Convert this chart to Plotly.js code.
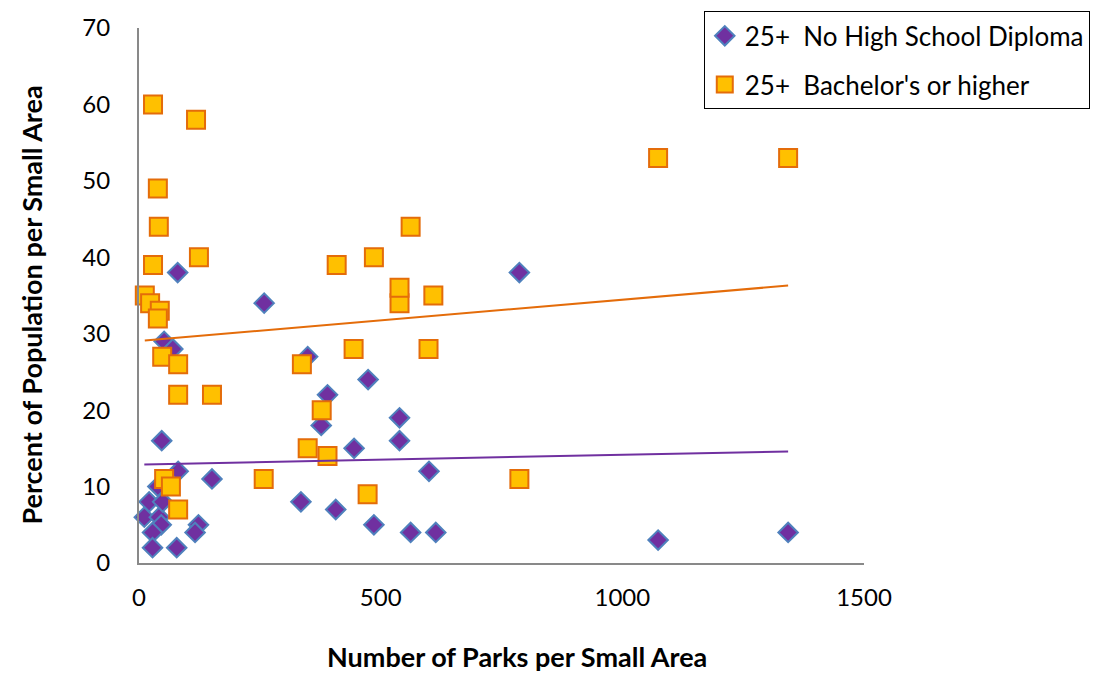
<!DOCTYPE html>
<html>
<head>
<meta charset="utf-8">
<script src="https://cdn.plot.ly/plotly-3.0.1.min.js"></script>
<style>
  html, body { margin: 0; padding: 0; background: #ffffff; }
  #chart { width: 1102px; height: 673px; }
</style>
</head>
<body>
<div id="chart"></div>
<script>
// Number of parks per small area and share of residents aged 25+ by schooling
const noDiplomaParks = [47, 81, 151, 39, 21, 11, 42, 46, 28, 123, 116, 28, 78, 80, 52, 70, 49,
                        259, 349, 474, 390, 377, 539, 539, 445, 600, 335, 407, 486, 562, 614, 787, 1074, 1343];
const noDiplomaPct   = [16, 12, 11, 10, 8, 6, 6, 5, 4, 5, 4, 2, 2, 38, 29, 28, 8,
                        34, 27, 24, 22, 18, 19, 16, 15, 12, 8, 7, 5, 4, 4, 38, 3, 4];

const bachelorParks = [29, 118, 39, 41, 29, 124, 12, 23, 43, 39, 48, 81, 81, 151, 52, 66, 81,
                       258, 349, 390, 378, 337, 444, 599, 473, 539, 539, 609, 409, 486, 562, 787, 1074, 1343];
const bachelorPct   = [60, 58, 49, 44, 39, 40, 35, 34, 33, 32, 27, 26, 22, 22, 11, 10, 7,
                       11, 15, 14, 20, 26, 28, 28, 9, 34, 36, 35, 39, 40, 44, 11, 53, 53];

// Linear trendline values at the smallest and largest park counts
const noDiplomaTrendPct = [12.9, 14.6];
const bachelorTrendPct  = [29.1, 36.3];

const seriesNames = ['25+\u00a0 No High School Diploma', "25+\u00a0 Bachelor's or higher"];
const xTicks = [0, 500, 1000, 1500];
const yTicks = [0, 10, 20, 30, 40, 50, 60, 70];

const span = xs => [Math.min(...xs), Math.max(...xs)];

const FONT = 'Lato, "Open Sans", sans-serif';

const traces = [
  {
    x: noDiplomaParks, y: noDiplomaPct, type: 'scatter', mode: 'markers',
    name: seriesNames[0], legendgroup: 'a',
    marker: { symbol: 'diamond', size: 15, color: '#7030A0', line: { color: '#4F81BD', width: 2 } },
    cliponaxis: false
  },
  {
    x: bachelorParks, y: bachelorPct, type: 'scatter', mode: 'markers',
    name: seriesNames[1], legendgroup: 'b',
    marker: { symbol: 'square', size: 18, color: '#FFC000', line: { color: '#E46C0A', width: 2 } },
    cliponaxis: false
  },
  {
    x: span(noDiplomaParks), y: noDiplomaTrendPct, type: 'scatter', mode: 'lines',
    showlegend: false, hoverinfo: 'skip',
    line: { color: '#7030A0', width: 2 }
  },
  {
    x: span(bachelorParks), y: bachelorTrendPct, type: 'scatter', mode: 'lines',
    showlegend: false, hoverinfo: 'skip',
    line: { color: '#E46C0A', width: 2 }
  }
];

const layout = {
  width: 1102, height: 673,
  margin: { l: 139, r: 238, t: 28, b: 110, autoexpand: false },
  paper_bgcolor: '#ffffff', plot_bgcolor: '#ffffff',
  font: { family: FONT, size: 24, color: '#000000' },
  showlegend: true,
  legend: {
    xref: 'paper', yref: 'paper',
    x: 0.779, y: 1.031, xanchor: 'left', yanchor: 'top',
    bgcolor: '#ffffff', bordercolor: '#000000', borderwidth: 1,
    font: { family: FONT, size: 26, color: '#000000' },
    traceorder: 'grouped', tracegroupgap: 12,
    itemsizing: 'trace'
  },
  xaxis: {
    range: [0, 1500], tickvals: xTicks, ticktext: xTicks.map(String),
    showgrid: false, zeroline: false,
    showline: true, linecolor: '#898989', linewidth: 2,
    ticks: '', ticklabelstandoff: 12,
    tickfont: { family: FONT, size: 24, color: '#000000' },
    fixedrange: true
  },
  yaxis: {
    range: [0, 70], tickvals: yTicks, ticktext: yTicks.map(String),
    showgrid: false, zeroline: false,
    showline: true, linecolor: '#898989', linewidth: 2,
    ticks: '', ticklabelstandoff: 22,
    tickfont: { family: FONT, size: 24, color: '#000000' },
    fixedrange: true
  },
  annotations: [
    {
      text: '<b>Number of Parks per Small Area</b>',
      xref: 'paper', yref: 'paper', x: 0.5214, y: -0.1757,
      xanchor: 'center', yanchor: 'middle', showarrow: false,
      font: { family: FONT, size: 27, color: '#000000' }
    },
    {
      text: '<b>Percent of Population per Small Area</b>',
      xref: 'paper', yref: 'paper', x: -0.1476, y: 0.483,
      xanchor: 'center', yanchor: 'middle', showarrow: false, textangle: -90,
      font: { family: FONT, size: 27, color: '#000000' }
    }
  ]
};

Plotly.newPlot('chart', traces, layout, { displayModeBar: false, staticPlot: true });
</script>
</body>
</html>
